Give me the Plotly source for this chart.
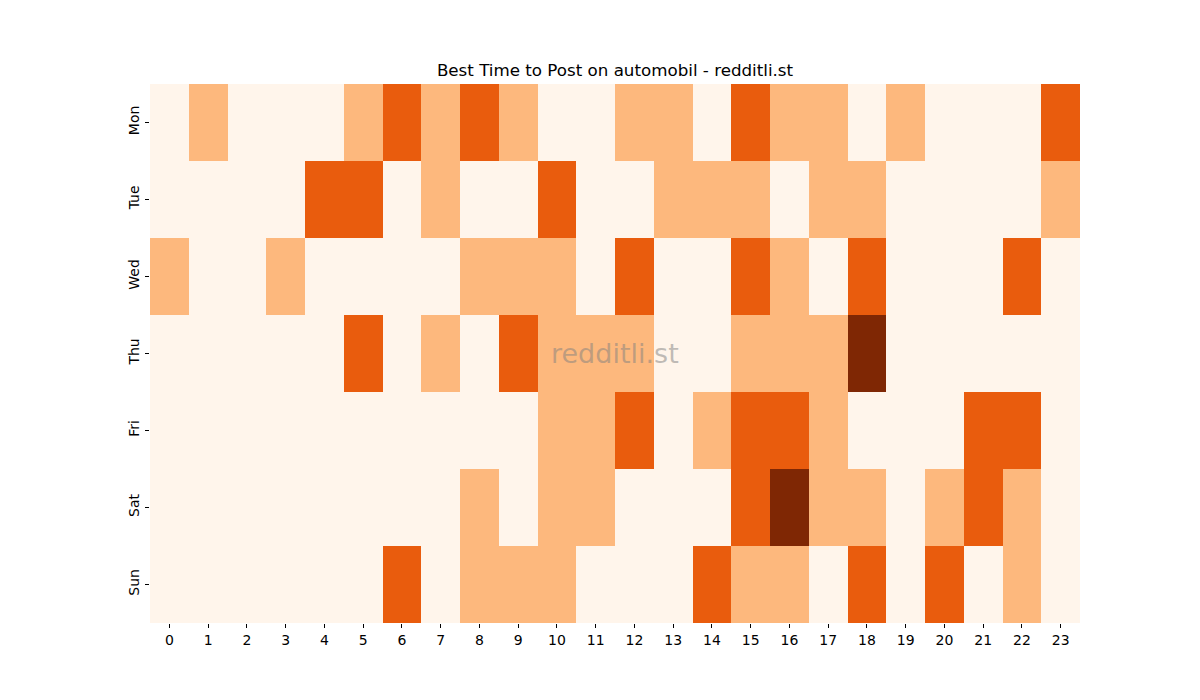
import plotly.graph_objects as go

# Heatmap du meilleur moment pour poster (niveaux 0-3)
days = ["Mon", "Tue", "Wed", "Thu", "Fri", "Sat", "Sun"]
hours = list(range(24))

mon = [0, 1, 0, 0, 0, 1, 2, 1, 2, 1, 0, 0, 1, 1, 0, 2, 1, 1, 0, 1, 0, 0, 0, 2]
tue = [0, 0, 0, 0, 2, 2, 0, 1, 0, 0, 2, 0, 0, 1, 1, 1, 0, 1, 1, 0, 0, 0, 0, 1]
wed = [1, 0, 0, 1, 0, 0, 0, 0, 1, 1, 1, 0, 2, 0, 0, 2, 1, 0, 2, 0, 0, 0, 2, 0]
thu = [0, 0, 0, 0, 0, 2, 0, 1, 0, 2, 1, 1, 1, 0, 0, 1, 1, 1, 3, 0, 0, 0, 0, 0]
fri = [0, 0, 0, 0, 0, 0, 0, 0, 0, 0, 1, 1, 2, 0, 1, 2, 2, 1, 0, 0, 0, 2, 2, 0]
sat = [0, 0, 0, 0, 0, 0, 0, 0, 1, 0, 1, 1, 0, 0, 0, 2, 3, 1, 1, 0, 1, 2, 1, 0]
sun = [0, 0, 0, 0, 0, 0, 2, 0, 1, 1, 1, 0, 0, 0, 2, 1, 1, 0, 2, 0, 2, 0, 1, 0]

z = [mon, tue, wed, thu, fri, sat, sun]

oranges = [
    [0.0, "#fff5eb"],
    [0.3333, "#fdb87d"],
    [0.6667, "#e95c0d"],
    [1.0, "#7f2704"],
]

fig = go.Figure(go.Heatmap(
    z=z,
    x=hours,
    y=days,
    colorscale=oranges,
    zmin=0,
    zmax=3,
    showscale=False,
    xgap=0,
    ygap=0,
))

# la page ajoute ~8 px de marge : on compense
fig.update_layout(
    width=1200,
    height=700,
    paper_bgcolor="white",
    plot_bgcolor="white",
    margin={"l": 142, "r": 128, "t": 76, "b": 85},
    font={"family": "DejaVu Sans", "size": 14, "color": "black"},
    title={
        "text": "Best Time to Post on automobil - redditli.st",
        "x": (615 - 8) / 1200,
        "xanchor": "center",
        "y": 1 - 62 / 700,
        "yanchor": "middle",
        "font": {"size": 16.7},
    },
    xaxis={
        "tickmode": "array",
        "tickvals": hours,
        "ticktext": [str(h) for h in hours],
        "ticks": "outside",
        "ticklen": 4,
        "tickcolor": "black",
        "showgrid": False,
        "zeroline": False,
        "showline": False,
        "range": [-0.5, 23.5],
    },
    yaxis={
        "autorange": "reversed",
        "ticks": "outside",
        "ticklen": 4,
        "tickcolor": "black",
        "tickangle": -90,
        "showgrid": False,
        "zeroline": False,
        "showline": False,
    },
    annotations=[{
        "text": "redditli.st",
        "x": 0.5,
        "y": 0.5,
        "xref": "paper",
        "yref": "paper",
        "showarrow": False,
        "font": {"size": 27, "color": "rgba(128,128,128,0.5)"},
    }],
)

fig.write_html("out.html")
